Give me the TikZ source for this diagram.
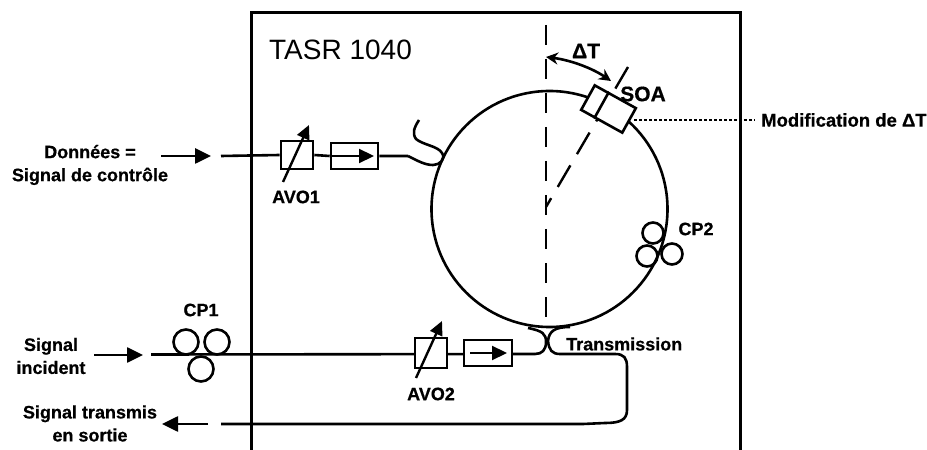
\documentclass[tikz,border=0pt]{standalone}
\usepackage{fontspec}
\setmainfont{Liberation Sans}[BoldFeatures={FakeBold=0.6}]
\usetikzlibrary{arrows.meta,calc}
\tikzset{
  x=1bp,y=-1bp,
  frameline/.style={line width=3bp,line cap=round},
  fibre/.style={line width=2.6bp},
  sig/.style={line width=2.6bp,-{Triangle[length=16bp,width=15bp]}},
  voa/.style={line width=2.4bp,-{Triangle[length=14bp,width=13bp]}},
  comp/.style={draw,line width=2.6bp,fill=white,minimum size=0pt,inner sep=0pt},
  coil/.style={draw,circle,line width=2.6bp,minimum size=25bp,inner sep=0pt},
  dashline/.style={line width=2.4bp,dash pattern=on 20bp off 14bp},
  lab/.style={font=\bfseries\fontsize{18bp}{23bp}\selectfont,align=center,inner sep=0pt},
  biglab/.style={lab,font=\bfseries\fontsize{21bp}{23bp}\selectfont},
}
\begin{document}
\begin{tikzpicture}
\useasboundingbox (0,0) rectangle (927,450);
% frame
\coordinate (fbl) at (251,452); \coordinate (ftl) at (251,13);
\coordinate (ftr) at (740,13); \coordinate (fbr) at (740,452);
\draw[frameline] (fbl) -- (ftl) -- (ftr) -- (fbr);
\node[anchor=west,inner sep=0pt,font=\fontsize{28bp}{30bp}\selectfont] (tasr) at (269,50) {TASR 1040};
% ring
\node[draw,circle,line width=2.6bp,minimum size=236bp,inner sep=0pt] (ring) at (549.5,209) {};
% axes
\coordinate (ctop) at (546,25); \coordinate (cbot) at (546,318);
\coordinate (radA) at (546,207); \coordinate (radB) at (628,67);
\draw[dashline] (ctop) -- (cbot);
\draw[dashline,dash pattern=on 25bp off 13bp] (radB) -- (radA);
% SOA
\node[comp,minimum width=47bp,minimum height=28bp,rotate=-29] (soa) at (608.5,109) {};
\draw[line width=2.6bp] ($(soa.north west)!0.34!(soa.north east)$) -- ($(soa.south west)!0.34!(soa.south east)$);
\node[biglab] (soalab) at (643,94) {SOA};
\coordinate (arcA) at (546,57); \coordinate (arcB) at (611,81);
\draw[line width=2.6bp,{Stealth[length=12bp,width=12bp]}-{Stealth[length=12bp,width=12bp]}] (arcA) .. controls (570,60) and (592,68) .. (arcB);
\node[biglab] (dt) at (586,51) {ΔT};
\node[lab,anchor=west,font=\bfseries\fontsize{18.5bp}{23bp}\selectfont] (mod) at (761,120) {Modification de ΔT};
\coordinate (dotS) at (634,120);
\draw[line width=2.5bp,dash pattern=on 2.5bp off 2.5bp,shorten >=6bp] (dotS) -- (mod.west);
% upper branch
\node[lab] (data) at (90,165) {Données =\\Signal de contrôle};
\coordinate (a1s) at (161,156); \coordinate (a1e) at (211,156);
\draw[sig] (a1s) -- (a1e);
\node[comp,minimum width=32bp,minimum height=28bp] (avo1) at (297,155) {};
\node[comp,minimum width=47bp,minimum height=26bp] (iso1) at (354.5,156) {};
\coordinate (in1) at (221,156); \coordinate (c1) at (408,156);
\draw[fibre] (in1) -- (avo1.west) (avo1.east) -- (iso1.west) (iso1.east) -- (c1);
\draw[line width=2.2bp,-{Triangle[length=15bp,width=14bp]}] (iso1.west) -- (374,156);
\coordinate (v1a) at (283,182); \coordinate (v1b) at (309,125);
\draw[voa] (v1a) -- (v1b);
\node[lab] (avo1l) at (296,197) {AVO1};
\coordinate (c1top) at (419,120);
\draw[fibre,line join=round] (c1) .. controls (418,161) and (425,165) .. (433,165)
  .. controls (440,165) and (446,159) .. (442,153)
  .. controls (438,146) and (423,145) .. (416,139)
  .. controls (412,133) and (414,128) .. (c1top);
% CP2
\node[coil,minimum size=21bp] (cp2a) at (653,233) {};
\node[coil,minimum size=21bp] (cp2b) at (647,256) {};
\node[coil,minimum size=21bp] (cp2c) at (672,254) {};
\node[lab] (cp2l) at (696,229) {CP2};
% lower branch
\node[lab] (inc) at (51,356) {Signal\\incident};
\coordinate (a2s) at (94,355); \coordinate (a2e) at (143,355);
\draw[sig] (a2s) -- (a2e);
\node[lab] (cp1l) at (201,310) {CP1};
\node[coil] (cp1a) at (186,342) {};
\node[coil] (cp1b) at (217,342) {};
\node[coil] (cp1c) at (201,369) {};
\coordinate (in2) at (151,354.5); \coordinate (c2) at (535,354);
\draw[fibre] (in2) -- (c2);
\node[comp,minimum width=32bp,minimum height=30bp] (avo2) at (431,353) {};
\node[comp,minimum width=48bp,minimum height=26bp] (iso2) at (488,353) {};
\draw[line width=2.2bp,-{Triangle[length=15bp,width=14bp]}] (470,353) -- (507,353);
\coordinate (v2a) at (416,378); \coordinate (v2b) at (442,321);
\draw[voa] (v2a) -- (v2b);
\node[lab] (avo2l) at (431,394) {AVO2};
\node[lab,anchor=west] (trans) at (566,344) {Transmission};
% couplers
\coordinate (ringL) at (528,328); \coordinate (ringR) at (570,327);
\draw[fibre] (c2) .. controls (542,354) and (546,350) .. (546,342) .. controls (546,334) and (543,331) .. (ringL);
\coordinate (outc) at (627,385);
\coordinate (outA) at (583,424); \coordinate (in3) at (221,424);
\draw[fibre] (ringR) .. controls (555,327) and (549,331) .. (548,341)
  .. controls (549,350) and (552,354) .. (560,354)
  -- (615,354) .. controls (624,354) and (627,358) .. (627,367)
  -- (outc) -- (627,410) .. controls (627,420) and (620,423) .. (605,423)
  -- (outA) -- (in3);
\coordinate (a3s) at (208,424); \coordinate (a3e) at (162,424);
\draw[sig] (a3s) -- (a3e);
\node[lab] (out) at (90,423.5) {Signal transmis\\en sortie};
\end{tikzpicture}
\end{document}
